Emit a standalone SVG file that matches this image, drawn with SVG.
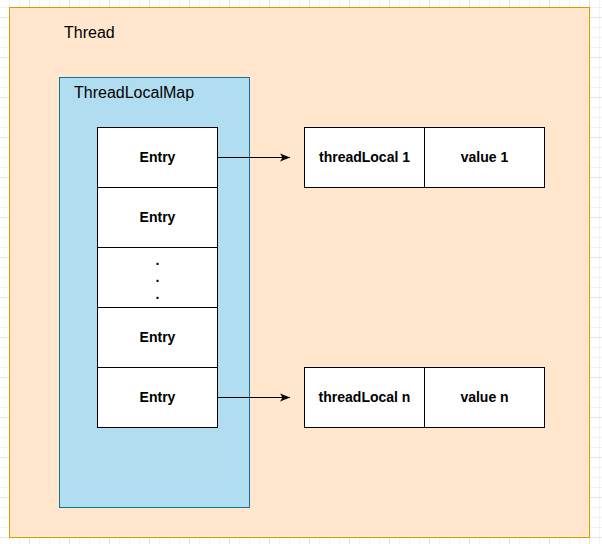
<svg xmlns="http://www.w3.org/2000/svg" width="602" height="544" viewBox="0 0 602 544">
<defs>
<pattern id="minor" x="9" y="7" width="10" height="10" patternUnits="userSpaceOnUse">
<path d="M0.5 0V10M0 0.5H10" fill="none" stroke="#f3f3f3" stroke-width="1"/>
</pattern>
<pattern id="major" x="29" y="17" width="40" height="40" patternUnits="userSpaceOnUse">
<path d="M0.5 0V40M0 0.5H40" fill="none" stroke="#e3e3e3" stroke-width="1"/>
</pattern>
<marker id="arr" viewBox="0 0 10 10" refX="10" refY="5" markerWidth="10" markerHeight="10" markerUnits="userSpaceOnUse" orient="auto">
<path d="M0 1 L10 5 L0 9 L2.5 5 Z" fill="#000"/>
</marker>
<style>
.cell{fill:#fff;stroke:#000;stroke-width:1}
.lbl{font-family:"Liberation Sans",Arial,sans-serif;font-size:14px;font-weight:bold;fill:#000;text-anchor:middle;dominant-baseline:central}
.title{font-family:"Liberation Sans",Arial,sans-serif;font-size:16px;fill:#000}
.edge{stroke:#000;stroke-width:1;fill:none;marker-end:url(#arr)}
</style>
</defs>
<rect width="602" height="544" fill="#fff"/>
<rect width="602" height="544" fill="url(#minor)"/>
<rect width="602" height="544" fill="url(#major)"/>
<g id="thread">
<rect x="9.5" y="7.5" width="580" height="530" fill="#ffe6cc" stroke="#d79b00"/>
<text class="title" x="64" y="38">Thread</text>
</g>
<g id="threadLocalMap">
<rect x="59.5" y="77.5" width="190" height="430" fill="#b1ddf0" stroke="#10739e"/>
<text class="title" x="74" y="98">ThreadLocalMap</text>
</g>
<g id="entry1">
<rect class="cell" x="97.5" y="127.5" width="120" height="60"/>
<text class="lbl" x="157.5" y="156.5">Entry</text>
</g>
<g id="entry2">
<rect class="cell" x="97.5" y="187.5" width="120" height="60"/>
<text class="lbl" x="157.5" y="216.5">Entry</text>
</g>
<g id="entryDots">
<rect class="cell" x="97.5" y="247.5" width="120" height="60"/>
<text class="lbl" x="157.5" y="259.5">.</text>
<text class="lbl" x="157.5" y="276.5">.</text>
<text class="lbl" x="157.5" y="293.5">.</text>
</g>
<g id="entry3">
<rect class="cell" x="97.5" y="307.5" width="120" height="60"/>
<text class="lbl" x="157.5" y="336.5">Entry</text>
</g>
<g id="entry4">
<rect class="cell" x="97.5" y="367.5" width="120" height="60"/>
<text class="lbl" x="157.5" y="396.5">Entry</text>
</g>
<g id="threadLocal1">
<rect class="cell" x="304.5" y="127.5" width="120" height="60"/>
<text class="lbl" x="364.5" y="156.5">threadLocal 1</text>
</g>
<g id="value1">
<rect class="cell" x="424.5" y="127.5" width="120" height="60"/>
<text class="lbl" x="484.5" y="156.5">value 1</text>
</g>
<g id="threadLocalN">
<rect class="cell" x="304.5" y="367.5" width="120" height="60"/>
<text class="lbl" x="364.5" y="396.5">threadLocal n</text>
</g>
<g id="valueN">
<rect class="cell" x="424.5" y="367.5" width="120" height="60"/>
<text class="lbl" x="484.5" y="396.5">value n</text>
</g>
<g id="connectors">
<line class="edge" x1="217.5" y1="157.5" x2="290" y2="157.5"/>
<line class="edge" x1="217.5" y1="397.5" x2="290" y2="397.5"/>
</g>
</svg>
